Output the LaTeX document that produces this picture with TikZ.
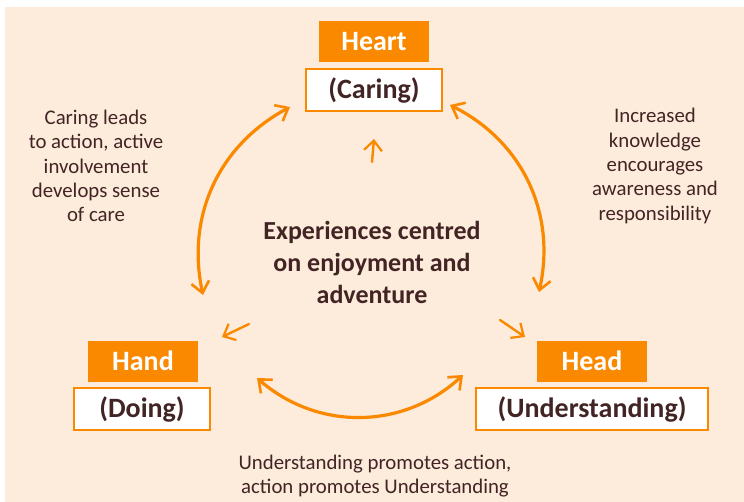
\documentclass[tikz,border=0pt]{standalone}
\usepackage{fontspec}
\setmainfont{Carlito}
\usetikzlibrary{arrows.meta}
\definecolor{hhorange}{RGB}{250,137,0}
\definecolor{hhbeige}{RGB}{253,235,219}
\definecolor{hhbrown}{RGB}{66,36,36}

\begin{document}
\begin{tikzpicture}[x=0.5pt,y=-0.5pt,
    tagbox/.style={fill=hhorange,text=white,font=\bfseries\fontsize{14}{16}\selectfont,
      minimum width=55pt,minimum height=20.5pt,inner sep=0pt},
    namebox/.style={draw=hhorange,line width=1pt,fill=white,text=hhbrown,
      font=\bfseries\fontsize{14}{16}\selectfont,minimum height=21pt,inner sep=3pt},
    note/.style={text=hhbrown,align=center,font=\fontsize{10.4}{12.2}\selectfont},
    bigarc/.style={draw=hhorange,line width=1.6pt,line cap=round,
      {Straight Barb[length=5.5pt,width=9pt,line width=1.3pt]}-{Straight Barb[length=5.5pt,width=9pt,line width=1.3pt]}},
    smallarr/.style={draw=hhorange,line width=1.2pt,line cap=round,
      -{Straight Barb[length=5pt,width=9pt,line width=1.1pt]}}]
\useasboundingbox (0,0) rectangle (744,502);
\fill[hhbeige] (5,7) rectangle (744,502);

% the three domains
\node[tagbox] at (374,42) (heart) {Heart};
\node[namebox,minimum width=68pt] at (374,90) (caring) {(Caring)};
\node[tagbox] at (143,361) (hand) {Hand};
\node[namebox,minimum width=68pt] at (142,409) (doing) {(Doing)};
\node[tagbox] at (592,361) (head) {Head};
\node[namebox,minimum width=116pt] at (592,409) (underst) {(Understanding)};

% centre and side notes
\node[text=hhbrown,align=center,font=\bfseries\fontsize{13}{16}\selectfont] at (372,262) (centre)
  {Experiences centred\\on enjoyment and\\adventure};
\node[note] at (96,166) (leftnote)
  {Caring leads\\to action, active\\involvement\\develops sense\\of care};
\node[note] at (655,166) (rightnote)
  {Increased\\knowledge\\encourages\\awareness and\\responsibility};
\node[note] at (375,476) (bottomnote)
  {Understanding promotes action,\\action promotes Understanding};

% arc end points
\coordinate (lt) at (290,107);
\coordinate (lb) at (203,295);
\coordinate (rt) at (450,105);
\coordinate (rb) at (539,292);
\coordinate (bl) at (257,378);
\coordinate (br) at (463,375);

\draw[bigarc] (lt) to[bend right=37] (lb);
\draw[bigarc] (rt) to[bend left=38] (rb);
\draw[bigarc] (bl) to[bend right=42] (br);

% small arrows out of the centre
\coordinate (ts) at (372,162);
\coordinate (tt) at (374,139);
\coordinate (ls) at (249,324);
\coordinate (lh) at (222,337);
\coordinate (rs) at (500,320);
\coordinate (rh) at (525,337);
\draw[smallarr] (ts) -- (tt);
\draw[smallarr] (ls) -- (lh);
\draw[smallarr] (rs) -- (rh);
\end{tikzpicture}
\end{document}
